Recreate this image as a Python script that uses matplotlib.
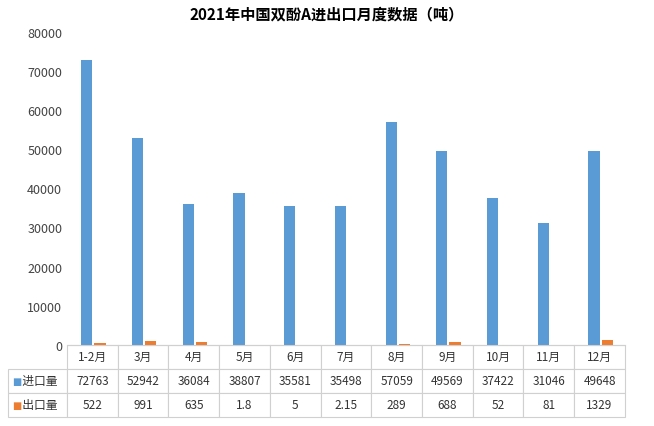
import matplotlib
matplotlib.use('Agg')
import matplotlib.pyplot as plt
import numpy as np

plt.rcParams['font.family'] = ['Noto Sans CJK SC', 'DejaVu Sans']

months = ['1-2月', '3月', '4月', '5月', '6月', '7月', '8月', '9月', '10月', '11月', '12月']
imports = [72763, 52942, 36084, 38807, 35581, 35498, 57059, 49569, 37422, 31046, 49648]
exports = [522, 991, 635, 1.8, 5, 2.15, 289, 688, 52, 81, 1329]
export_labels = ['522', '991', '635', '1.8', '5', '2.15', '289', '688', '52', '81', '1329']
series_names = ['进口量', '出口量']
blue, orange = '#5B9BD5', '#ED7D31'

fig = plt.figure(figsize=(6.54, 4.27), dpi=100)
ax = fig.add_axes([0.1025, 0.19, 0.853, 0.733])
x = np.arange(len(months))
ax.bar(x - 0.11, imports, width=0.22, color=blue)
ax.bar(x + 0.15, exports, width=0.22, color=orange)
ax.set_xlim(-0.5, len(months) - 0.5)
ax.set_ylim(0, 80000)
ax.set_yticks(range(0, 80001, 10000))
ax.tick_params(axis='y', length=0, labelsize=9, colors='#444444')
ax.set_xticks([])
for s in ['top', 'right', 'left']:
    ax.spines[s].set_visible(False)
ax.spines['bottom'].set_color('#d0d0d0')
fig.text(0.5, 0.965, '2021年中国双酚A进出口月度数据（吨）', ha='center', va='center',
         fontsize=11, fontweight='bold')

cells = [[''] + months,
         ['  ' + series_names[0]] + [str(v) for v in imports],
         ['  ' + series_names[1]] + export_labels]
left = -0.106
tbl = ax.table(cellText=cells, cellLoc='center',
               bbox=[left, -0.23, 1 - left, 0.23],
               colWidths=[-left] + [1 / 11] * 11)
tbl.auto_set_font_size(False)
for (r, c), cell in tbl.get_celld().items():
    cell.set_edgecolor('#d0d0d0')
    cell.set_linewidth(0.8)
    cell.get_text().set_fontsize(8.5)
    cell.get_text().set_color('#333333')
    if r == 0 and c == 0:
        cell.set_edgecolor('white')
    if c == 0 and r > 0:
        cell.get_text().set_ha('left') if False else None
for r, col in [(1, blue), (2, orange)]:
    ax.text(left + 0.008, -0.23 + 0.23 * (3 - r - 0.5) / 3, '■', color=col,
            transform=ax.transAxes, fontsize=7, va='center', ha='left',
            family=['DejaVu Sans'])

fig.savefig('out.png', dpi=100)
